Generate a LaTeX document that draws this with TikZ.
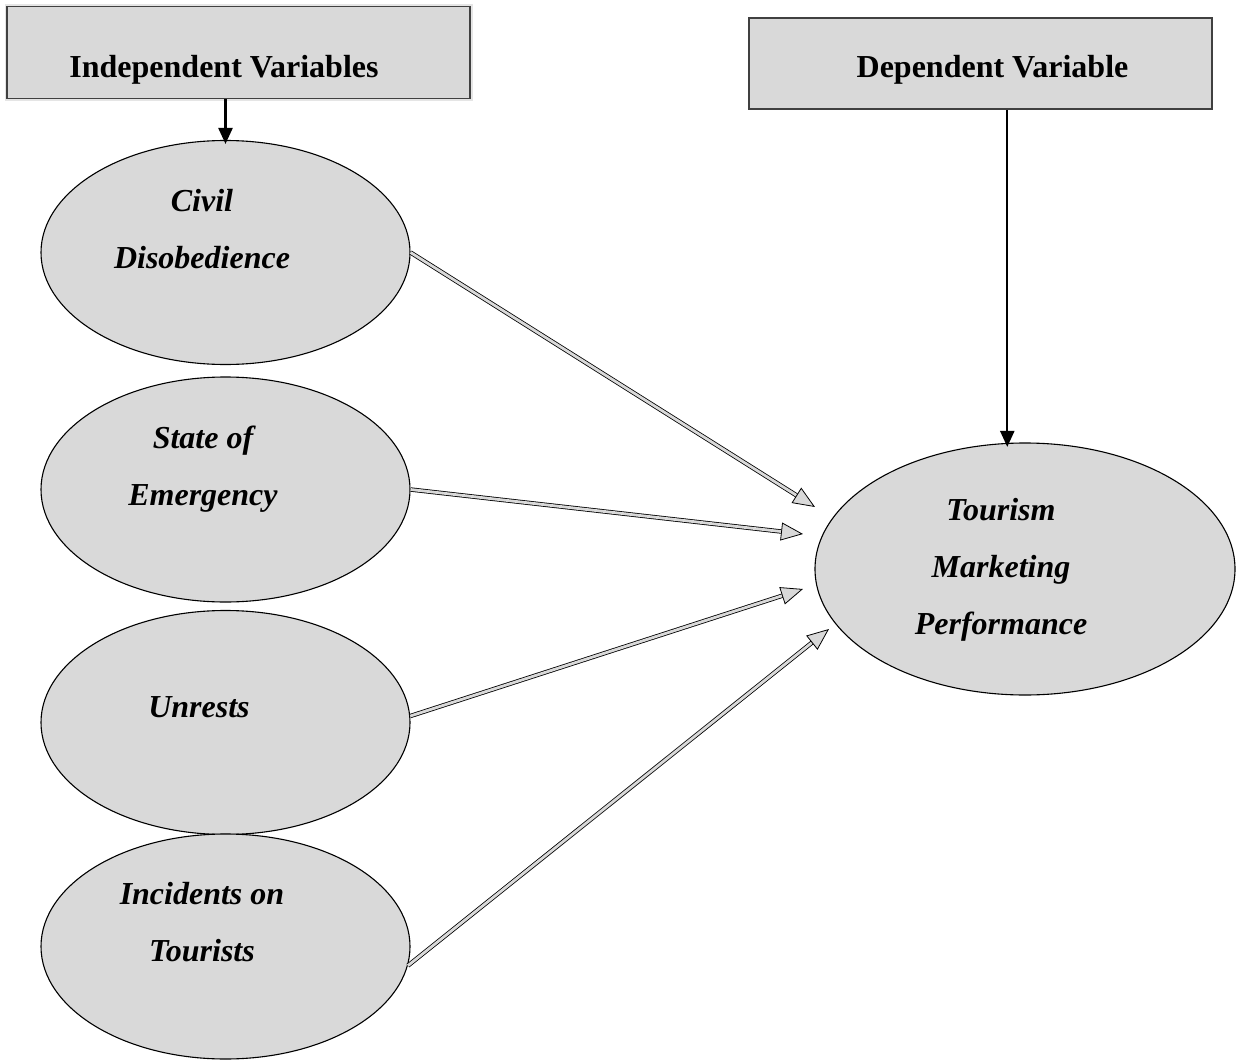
\documentclass[tikz,border=0pt]{standalone}
\usepackage{fontspec}
\setmainfont{Liberation Serif}
\usetikzlibrary{arrows.meta, shapes.geometric, calc}
\definecolor{fillgray}{HTML}{D9D9D9}

\begin{document}
\begin{tikzpicture}[x=0.5pt, y=-0.5pt,
    varbox/.style={draw=black!75, line width=0.75pt, fill=fillgray, minimum width=231.5pt, minimum height=46pt, inner sep=0pt},
    boxtxt/.style={font=\fontsize{16}{19}\selectfont\bfseries, anchor=base},
    factor/.style={ellipse, draw, line width=0.55pt, fill=fillgray, inner sep=0pt, minimum width=184.5pt, minimum height=112pt},
    factxt/.style={font=\fontsize{16}{28.5}\selectfont\bfseries\itshape, align=center, anchor=base},
    link/.style={line width=1.2pt, -{Triangle[length=8pt, width=7pt]}, shorten >=-2pt},
    infl/.style={draw=black, line width=0.4pt, double=fillgray, double distance=1.4pt, -{Triangle[length=11pt, width=9pt, fill=fillgray]}},
]
    \useasboundingbox (0,0) rectangle (1238,1060);

    % header boxes
    \node[varbox, preaction={draw=black!10, line width=2.5pt}] (indep) at (238.5,52.5) {};
    \node[boxtxt] (indep-txt) at (224,77) {Independent Variables};
    \node[varbox, minimum height=45.5pt] (dep) at (980.5,63.5) {};
    \node[boxtxt] (dep-txt) at (992.5,77) {Dependent Variable};

    % independent variables (base = last line)
    \node[factor] (civil) at (225.5,252.5) {};
    \node[factxt] (civil-txt) at (202,268) {Civil\\Disobedience};
    \node[factor, minimum height=112.5pt] (emerg) at (225.5,489.5) {};
    \node[factxt] (emerg-txt) at (203,505) {State of\\Emergency};
    \node[factor] (unrest) at (225.5,722.5) {};
    \node[factxt] (unrest-txt) at (199,717) {Unrests};
    \node[factor, minimum height=112.5pt] (incid) at (225.5,946.5) {};
    \node[factxt] (incid-txt) at (202,961) {Incidents on\\Tourists};

    % dependent variable
    \node[factor, minimum width=210pt, minimum height=126pt] (tmp) at (1025,569) {};
    \node[factxt] (tmp-txt) at (1001,634) {Tourism\\Marketing\\Performance};

    \draw[link] (civil.north |- indep.south) -- (civil.north);
    \draw[link] (dep.south -| tmp.98) -- (tmp.98);

    % influences
    \coordinate (in1) at (815,507);
    \coordinate (in2) at (803,534);
    \coordinate (in3) at (803,589);
    \coordinate (in4) at (829,629);
    \draw[infl] (civil.east) -- (in1);
    \draw[infl] (emerg.east) -- (in2);
    \draw[infl] (unrest.2) -- (in3);
    \draw[infl] (incid.-6) -- (in4);
\end{tikzpicture}
\end{document}
